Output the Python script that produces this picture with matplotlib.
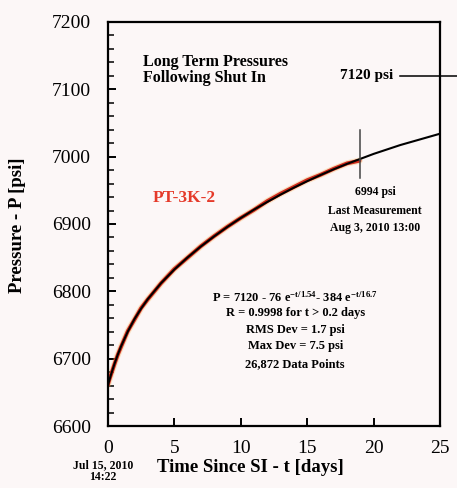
import matplotlib
matplotlib.use("Agg")
import matplotlib.pyplot as plt
from matplotlib.ticker import MultipleLocator

# fitted curve
fit_t = [0, 0.1, 0.25, 0.5, 0.75, 1, 1.5, 2, 2.5, 3, 4, 5, 6, 7, 8, 9, 10,
         11, 12, 13, 14, 15, 16, 17, 18, 20, 22, 25]
fit_p = [6660, 6667.1, 6677.1, 6692.4, 6706.2, 6718.6, 6740.3, 6758.7, 6774.4,
         6788.3, 6812.1, 6832.4, 6850.3, 6866.7, 6881.7, 6895.8, 6908.9,
         6921.3, 6932.8, 6943.7, 6954.0, 6963.6, 6972.7, 6981.3, 6989.3,
         7004.1, 7017.2, 7034.1]

# measured gauge pressures (red trace)
meas_t = [0.0, 0.1, 0.2, 0.3, 0.5, 0.75, 1, 1.5, 2, 2.5, 3, 4, 5, 6, 7, 8, 9,
          10, 11, 12, 13, 14, 15, 16, 17, 18, 18.94]
meas_p = [6661, 6668, 6674, 6680, 6692, 6706, 6718, 6741, 6758, 6775, 6788,
          6812, 6833, 6850, 6867, 6882, 6896, 6909, 6921, 6934, 6945, 6955,
          6965, 6973, 6982, 6990, 6994]

p_final = 7120
t_last = 18.94
p_last = 6994

x_ticks = [0, 5, 10, 15, 20, 25]
y_ticks = [6600, 6700, 6800, 6900, 7000, 7100, 7200]

eq_lines = [
    r"P = 7120 - 76 e$^{-t/1.54}$- 384 e$^{-t/16.7}$",
    "R = 0.9998 for t > 0.2 days",
    "RMS Dev = 1.7 psi",
    "Max Dev = 7.5 psi",
    "26,872 Data Points",
]

plt.rcParams['font.family'] = ['Liberation Serif', 'DejaVu Serif']
plt.rcParams['mathtext.fontset'] = 'custom'
plt.rcParams['mathtext.rm'] = 'Liberation Serif:bold'
plt.rcParams['mathtext.it'] = 'Liberation Serif:bold'
plt.rcParams['mathtext.default'] = 'rm'

bg = '#fcf7f7'
fig = plt.figure(figsize=(4.57, 4.88), dpi=100, facecolor=bg)
ax = fig.add_axes([0.236, 0.127, 0.727, 0.828], facecolor=bg)

# data and fit
ax.plot(meas_t, meas_p, color='#f2b04a', lw=4.5, alpha=0.3, solid_capstyle='round')
ax.plot(meas_t, meas_p, color='#cf2a1c', lw=2.8, solid_capstyle='round')
ax.plot(fit_t, fit_p, color='black', lw=1.5)

ax.set_xlim(0, 25)
ax.set_ylim(6600, 7200)
ax.set_xticks(x_ticks)
ax.set_yticks(y_ticks)
ax.yaxis.set_minor_locator(MultipleLocator(20))

for s in ax.spines.values():
    s.set_linewidth(1.6)
ax.tick_params(axis='both', which='major', direction='in', length=6, width=1.4,
               labelsize=14, top=False, right=False)
ax.tick_params(axis='x', pad=10)
ax.tick_params(axis='y', pad=12)
ax.tick_params(axis='y', which='minor', direction='in', length=4, width=1.1, right=False)

ax.set_xlabel("Time Since SI - t [days]", fontsize=13.5, fontweight='bold')
ax.xaxis.set_label_coords(0.428, -0.1015)
ax.xaxis.label.set_va('center')
ax.set_ylabel("Pressure - P [psi]", fontsize=13.5, fontweight='bold')
ax.yaxis.set_label_coords(-0.271, 0.4975)
ax.yaxis.label.set_va('center')

# annotations
ax.text(2.64, 7128.7, "Long Term Pressures\nFollowing Shut In", fontsize=11.5,
        fontweight='bold', ha='left', va='center', linespacing=1.05)
ax.text(21.46, p_final, "7120 psi", fontsize=11, fontweight='bold',
        ha='right', va='center')
ax.plot([22.0, 26.4], [p_final, p_final], color='black', lw=1.1, clip_on=False)

ax.text(5.72, 6939, "PT-3K-2", fontsize=12.5, fontweight='bold',
        color='#e53a2a', ha='center', va='center')

ax.plot([t_last, t_last], [6969, 7039], color='#444444', lw=1.1)
ax.text(20.1, 6947.5, f"{p_last} psi", fontsize=8.5, fontweight='bold',
        ha='center', va='center')
ax.text(20.1, 6919, "Last Measurement", fontsize=8.5, fontweight='bold',
        ha='center', va='center')
ax.text(20.1, 6894, "Aug 3, 2010 13:00", fontsize=8.5, fontweight='bold',
        ha='center', va='center')

eq_y = [6791.6, 6767.8, 6742.6, 6718.8, 6692]
for line, yy in zip(eq_lines, eq_y):
    ax.text(14.1, yy, line, fontsize=9, fontweight='bold', ha='center', va='center')

fig.text(0.2254, 0.0471, "Jul 15, 2010", fontsize=8.5, fontweight='bold',
         ha='center', va='center')
fig.text(0.2254, 0.0225, "14:22", fontsize=8.5, fontweight='bold',
         ha='center', va='center')

fig.savefig("out.png", dpi=100, facecolor=bg)
